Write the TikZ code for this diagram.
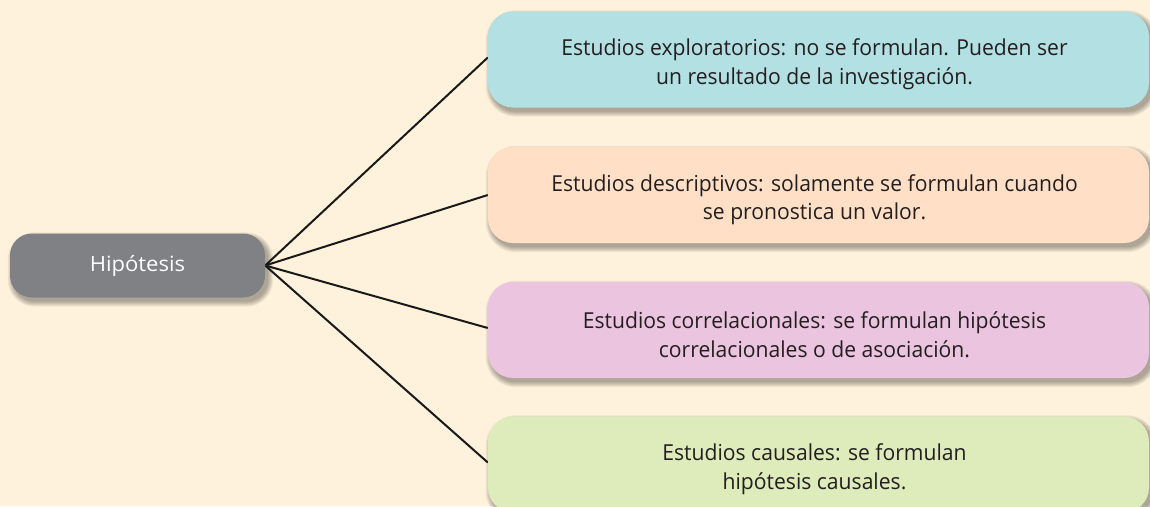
\documentclass[tikz,border=0pt]{standalone}
\usepackage{fontspec}
\setmainfont{Open Sans}
\usetikzlibrary{backgrounds}
\pgfdeclarelayer{lines}
\pgfsetlayers{background,lines,main}
\definecolor{bgcream}{HTML}{FEF2DC}
\definecolor{hipgray}{HTML}{808185}
\definecolor{cblue}{HTML}{B3E0E3}
\definecolor{corange}{HTML}{FFE0C6}
\definecolor{cpink}{HTML}{EBC4DF}
\definecolor{cgreen}{HTML}{DEEBBB}
\definecolor{txtdark}{HTML}{231F20}
\newfontfamily\wideface[FakeStretch=0.96]{Open Sans}
\newfontfamily\hipface[FakeStretch=1.05]{Open Sans}
\tikzset{
  mainbox/.style={fill=hipgray,rounded corners=22pt,minimum width=255pt,minimum height=64pt,inner sep=0pt,text=white,font=\hipface\fontsize{21}{24}\selectfont},
  catbox/.style={rounded corners=25pt,minimum width=661pt,minimum height=96pt,inner sep=0pt},
  cattext/.style={inner sep=0pt,text=txtdark,align=center,font=\wideface\fontsize{22}{28.5}\selectfont},
  conn/.style={draw=black!90,line width=2pt},
  shadowpiece/.style={fill=black,opacity=0.06}
}
\newcommand\shadowfor[2]{%
  \foreach \e in {0,1,2,3,4,5}{%
    \fill[shadowpiece,rounded corners=#2+\e pt]
      ([xshift=3pt-\e pt,yshift=-4pt+\e pt]#1.north west) rectangle
      ([xshift=3pt+\e pt,yshift=-4pt-\e pt]#1.south east);}%
}
\begin{document}
\begin{tikzpicture}[x=1pt,y=-1pt]
\useasboundingbox (0,0) rectangle (1150,506);
\begin{pgfonlayer}{background}
\fill[bgcream] (0,0) rectangle (1150,506);
\end{pgfonlayer}
\node[mainbox] (h) at (137.5,265.5) {Hipótesis};
\node[catbox,fill=cblue] (a) at (818.5,59.5) {};
\node[catbox,fill=corange] (b) at (818.5,195) {};
\node[catbox,fill=cpink] (c) at (818.5,330) {};
\node[catbox,fill=cgreen] (d) at (818.5,464.5) {};
\node[cattext] (at) at ([xshift=-4pt,yshift=-4.5pt]a.center) {Estudios exploratorios: no se formulan. Pueden ser\\un resultado de la investigación.};
\node[cattext] (bt) at ([xshift=-4pt,yshift=-4.5pt]b.center) {Estudios descriptivos: solamente se formulan cuando\\se pronostica un valor.};
\node[cattext] (ct) at ([xshift=-4pt,yshift=-4.5pt]c.center) {Estudios correlacionales: se formulan hipótesis\\correlacionales o de asociación.};
\node[cattext] (dt) at ([xshift=-4pt,yshift=-4.5pt]d.center) {Estudios causales: se formulan\\hipótesis causales.};
\begin{pgfonlayer}{background}
\shadowfor{h}{22pt}
\shadowfor{a}{25pt}
\shadowfor{b}{25pt}
\shadowfor{c}{25pt}
\shadowfor{d}{25pt}
\end{pgfonlayer}
\begin{pgfonlayer}{lines}
\draw[conn] (h.east) -- ([yshift=2pt]a.west);
\draw[conn] (h.east) -- (b.west);
\draw[conn] (h.east) -- ([yshift=2pt]c.west);
\draw[conn] (h.east) -- ([yshift=2pt]d.west);
\end{pgfonlayer}
\end{tikzpicture}
\end{document}
